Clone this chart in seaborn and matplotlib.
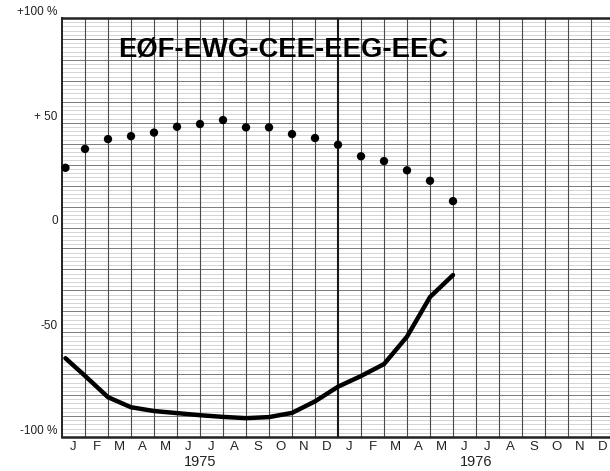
import numpy as np
import pandas as pd
import matplotlib
matplotlib.use("Agg")
import matplotlib.pyplot as plt
import seaborn as sns

# --- data ---
month_letters = ["J", "F", "M", "A", "M", "J", "J", "A", "S", "O", "N", "D"] * 2
years = ["1975", "1976"]
y_ticks = [-100, -50, 0, 50, 100]
y_tick_labels = ["-100 %", "-50", "0", "+ 50", "+100 %"]

# month index (0 = Jan 1975) for the 18 monthly readings
month_pos = [0.15, 1, 2, 3, 4, 5, 6, 7, 8, 9, 10, 11, 12, 13, 14, 15, 16, 17]
dots = [28.5, 37.5, 42.2, 43.6, 45.3, 48.1, 49.4, 51.3, 47.8, 47.8,
        44.6, 42.7, 39.5, 34.0, 31.7, 27.3, 22.3, 12.6]
line = [-62.4, -70.8, -81.0, -85.8, -87.6, -88.6, -89.6, -90.4, -91.0, -90.5,
        -88.5, -83.0, -76.0, -70.9, -65.2, -52.1, -33.2, -22.7]

df = pd.DataFrame({"month": month_pos, "dots": dots, "line": line})

sns.set_theme(style="white")
plt.rcParams["font.family"] = ["Liberation Sans", "DejaVu Sans"]

fig = plt.figure(figsize=(6.1, 4.71), dpi=100)
ax = fig.add_axes([62 / 610, 34 / 471, 548 / 610, 419 / 471])

# graph-paper grid
for v in np.arange(-100, 101, 2):
    if v % 10 == 0:
        ax.axhline(v, color="#7a7a7a", lw=0.7, zorder=0)
    else:
        ax.axhline(v, color="#bdbdbd", lw=0.45, zorder=0)
for m in range(1, 25):
    ax.axvline(m, color="#1a1a1a" if m == 12 else "#4a4a4a",
               lw=1.5 if m == 12 else 0.8, zorder=1)

sns.scatterplot(data=df, x="month", y="dots", ax=ax, color="black", s=36,
                edgecolor="none", zorder=4, clip_on=False)
sns.lineplot(data=df, x="month", y="line", ax=ax, color="black", lw=3.2,
             zorder=4)

ax.set_xlim(0, 548 / 23)
ax.set_ylim(-100, 100)

ax.set_xticks([i + 0.5 for i in range(24)])
ax.set_xticklabels(month_letters, fontsize=9.5, color="#222222")
ax.set_yticks(y_ticks)
ax.set_yticklabels(y_tick_labels, fontsize=8.5, color="#222222")
ax.tick_params(length=0, pad=3)
for lab in ax.get_yticklabels():
    lab.set_va("bottom")
ax.set_xlabel("")
ax.set_ylabel("")

for i, yr in enumerate(years):
    ax.text(6 + 12 * i, -0.043, yr, transform=ax.get_xaxis_transform(),
            ha="center", va="top", fontsize=10.5, color="#222222")

ax.text(0.102, 0.924, "EØF-EWG-CEE-EEG-EEC", transform=ax.transAxes,
        fontsize=19.7, fontweight="bold", color="black", ha="left", va="center")

for side in ["top", "bottom"]:
    ax.spines[side].set_linewidth(1.8)
    ax.spines[side].set_color("#222222")
ax.spines["left"].set_linewidth(1.4)
ax.spines["left"].set_color("#222222")
ax.spines["right"].set_visible(False)

fig.savefig("out.png", dpi=100)
